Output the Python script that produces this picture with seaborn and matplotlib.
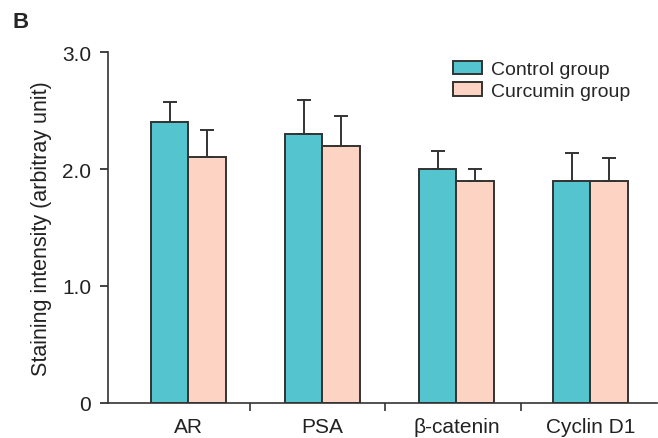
import matplotlib
matplotlib.use("Agg")
import matplotlib.pyplot as plt
import seaborn as sns
import pandas as pd
import numpy as np

categories = ["AR", "PSA", "β-catenin", "Cyclin D1"]
groups = ["Control group", "Curcumin group"]
control_vals = [2.4, 2.3, 2.0, 1.9]
curcumin_vals = [2.1, 2.2, 1.9, 1.9]
control_err = [0.17, 0.29, 0.15, 0.24]
curcumin_err = [0.23, 0.25, 0.10, 0.19]
ytick_vals = [0, 1.0, 2.0, 3.0]
ytick_labels = ["0", "1.0", "2.0", "3.0"]

sns.set_style("ticks")
plt.rcParams["font.family"] = ["Liberation Sans", "DejaVu Sans"]

df = pd.DataFrame({
    "category": categories * 2,
    "group": [groups[0]] * 4 + [groups[1]] * 4,
    "value": control_vals + curcumin_vals,
    "err": control_err + curcumin_err,
})

fig = plt.figure(figsize=(6.58, 4.39), dpi=100)
ax = fig.add_axes([108/658, 1-404/439, 1-108/658-0.001, (404-53)/439])

colors = {"Control group": "#54C5CE", "Curcumin group": "#FDD4C3"}
sns.barplot(data=df, x="category", y="value", hue="group", order=categories,
            hue_order=groups, palette=colors, width=0.56, errorbar=None,
            edgecolor="#333333", linewidth=1.4, ax=ax, saturation=1)

# error bars (upper only) at bar centres
for container, grp in zip(ax.containers, groups):
    sub = df[df["group"] == grp].set_index("category").loc[categories]
    xs = [p.get_x() + p.get_width()/2 for p in container.patches]
    ax.errorbar(xs, sub["value"].values, yerr=[np.zeros(len(xs)), sub["err"].values],
                fmt="none", ecolor="#333333", elinewidth=1.4, capsize=5, capthick=1.4, zorder=1)

ax.set_xlim(-0.6, 3.5)
ax.set_ylim(0, 3.0)
ax.set_yticks(ytick_vals)
ax.set_yticklabels(ytick_labels)
ax.set_xticks(range(len(categories)))
ax.set_xticklabels(categories)
ax.tick_params(axis="x", length=0, labelsize=15, pad=10, colors="#222222")
ax.tick_params(axis="y", length=6, width=1.2, labelsize=15, pad=6, colors="#222222")
ax.set_xticks([0.46, 1.47, 2.48], minor=True)
ax.tick_params(axis="x", which="minor", length=6, width=1.2, color="#333333")
ax.set_xlabel("")
ax.set_ylabel("Staining intensity (arbitray unit)", fontsize=15.5, color="#222222", labelpad=7)
for s in ["top", "right"]:
    ax.spines[s].set_visible(False)
for s in ["left", "bottom"]:
    ax.spines[s].set_linewidth(1.2)
    ax.spines[s].set_color("#333333")

handles, labels = ax.get_legend_handles_labels()
ax.legend(handles, labels, loc="upper left", bbox_to_anchor=(453/658, 1-62/439),
          bbox_transform=fig.transFigure, frameon=False, fontsize=14,
          borderpad=0, borderaxespad=0,
          handlelength=1.5, handleheight=0.68, handletextpad=0.45, labelspacing=0.2)

fig.text(12/658, 1-22/439, "B", fontsize=16, fontweight="bold", va="center", ha="left")

fig.savefig("out.png", dpi=100)
